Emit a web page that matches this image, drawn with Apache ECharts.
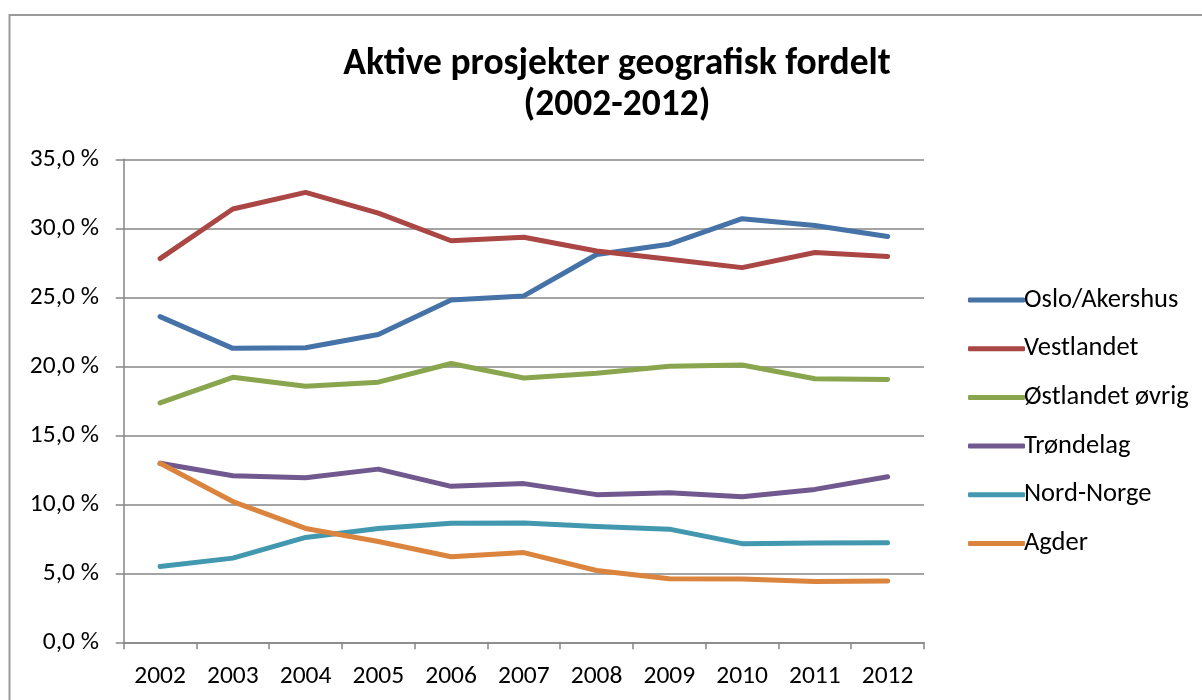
<!DOCTYPE html>
<html>
<head>
<meta charset="utf-8">
<script src="https://cdn.jsdelivr.net/npm/echarts@6/dist/echarts.min.js"></script>
<style>
  html, body { margin: 0; padding: 0; background: #fff; }
  #main { width: 1202px; height: 700px; }
</style>
</head>
<body>
<div id="main"></div>
<script>
// data (percent)
var years = ['2002', '2003', '2004', '2005', '2006', '2007', '2008', '2009', '2010', '2011', '2012'];
var osloAkershus = [23.6, 21.3, 21.35, 22.3, 24.8, 25.1, 28.1, 28.85, 30.7, 30.2, 29.4];
var vestlandet = [27.8, 31.4, 32.6, 31.1, 29.1, 29.35, 28.35, 27.75, 27.15, 28.25, 27.95];
var ostlandetOvrig = [17.35, 19.2, 18.55, 18.85, 20.2, 19.15, 19.5, 20.0, 20.1, 19.1, 19.05];
var trondelag = [12.97, 12.07, 11.93, 12.55, 11.3, 11.5, 10.7, 10.83, 10.55, 11.08, 12.0];
var nordNorge = [5.5, 6.1, 7.6, 8.25, 8.62, 8.64, 8.4, 8.2, 7.15, 7.2, 7.22];
var agder = [12.97, 10.2, 8.25, 7.3, 6.2, 6.5, 5.2, 4.6, 4.58, 4.4, 4.45];

var seriesNames = ['Oslo/Akershus', 'Vestlandet', 'Østlandet øvrig', 'Trøndelag', 'Nord-Norge', 'Agder'];
var seriesData = [osloAkershus, vestlandet, ostlandetOvrig, trondelag, nordNorge, agder];
var colors = ['#4572a7', '#aa4643', '#89a54e', '#71588f', '#4198af', '#db843d'];

var font = 'Carlito, Lato, "Open Sans", sans-serif';

var myChart = echarts.init(document.getElementById('main'));

myChart.setOption({
    animation: false,
    color: colors,
    textStyle: { fontFamily: font },
    title: {
        text: 'Aktive prosjekter geografisk fordelt\n(2002-2012)',
        left: 612,
        textAlign: 'center',
        top: 39.5,
        textStyle: {
            fontFamily: font,
            fontSize: 37.5,
            fontWeight: 'bold',
            color: '#000',
            lineHeight: 41
        }
    },
    graphic: [{
        type: 'rect',
        shape: { x: 9.5, y: 15, width: 1300, height: 800 },
        style: { fill: 'none', stroke: '#9a9a9a', lineWidth: 2 },
        silent: true
    }],
    legend: {
        orient: 'vertical',
        left: 963,
        top: 281.5,
        itemWidth: 57,
        itemHeight: 5,
        itemGap: 21.7,
        icon: 'roundRect',
        textStyle: { fontFamily: font, fontSize: 26.5, color: '#000', padding: [0, 0, 0, -6] },
        data: seriesNames
    },
    grid: {
        left: 123.7,
        right: 278,
        top: 159.3,
        bottom: 57.7
    },
    xAxis: {
        type: 'category',
        data: years,
        boundaryGap: true,
        axisLine: { lineStyle: { color: '#868686', width: 1.5 } },
        axisTick: { show: true, length: 7, lineStyle: { color: '#868686', width: 1.5 } },
        axisLabel: { color: '#000', fontSize: 25.5, margin: 21, fontFamily: font }
    },
    yAxis: {
        type: 'value',
        min: 0,
        max: 35,
        interval: 5,
        axisLine: { show: true, lineStyle: { color: '#868686', width: 1.5 } },
        axisTick: { show: true, length: 8, lineStyle: { color: '#868686', width: 1.5 } },
        splitLine: { lineStyle: { color: '#868686', width: 1.5 } },
        axisLabel: {
            color: '#000',
            fontSize: 25.5,
            margin: 24.7,
            fontFamily: font,
            formatter: function (v) { return v.toFixed(1).replace('.', ',') + ' %'; }
        }
    },
    series: seriesNames.map(function (name, i) {
        return {
            name: name,
            type: 'line',
            data: seriesData[i],
            symbol: 'none',
            lineStyle: { width: 5, cap: 'round', join: 'round' }
        };
    })
});
</script>
</body>
</html>
